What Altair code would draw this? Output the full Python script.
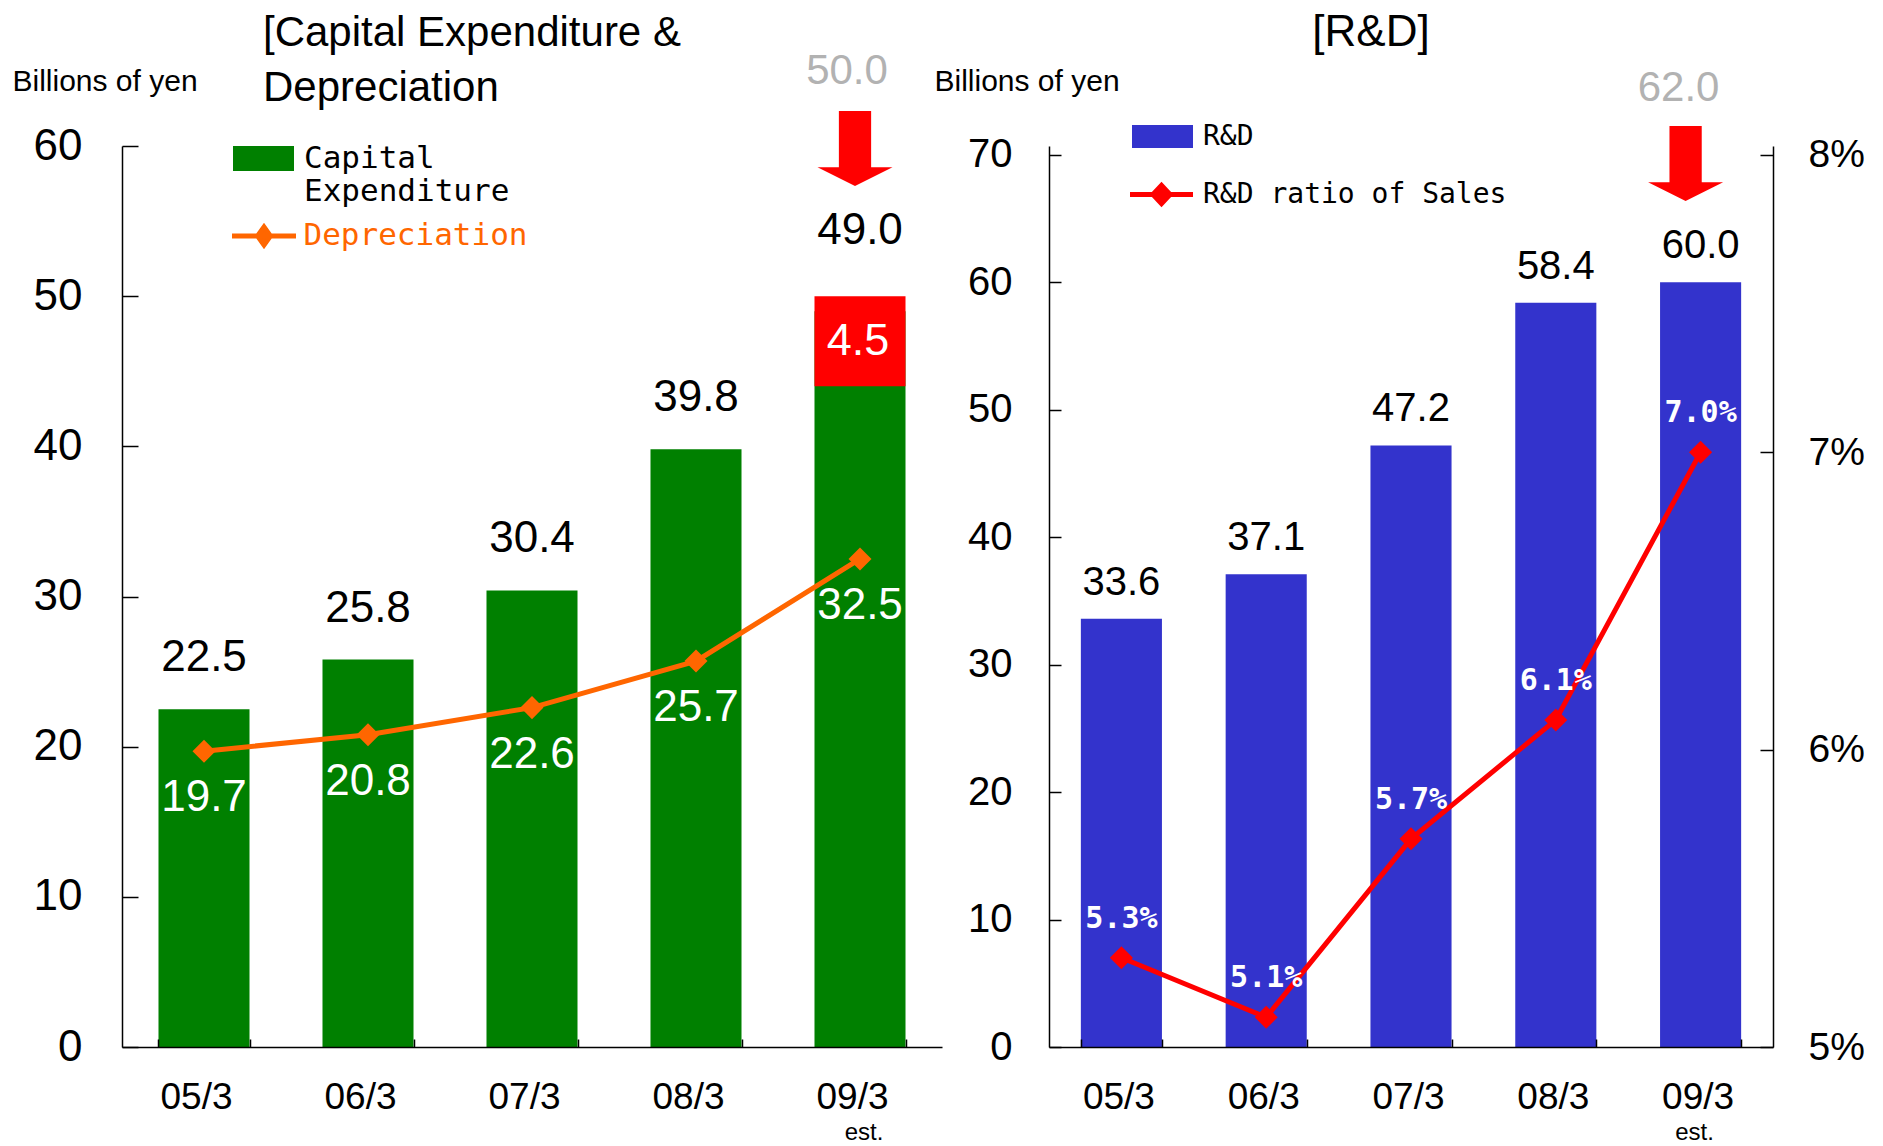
import altair as alt
import pandas as pd

# ---------------- data ----------------
periods = ["05/3", "06/3", "07/3", "08/3", "09/3"]
capex = [22.5, 25.8, 30.4, 39.8, 49.0]
depreciation = [19.7, 20.8, 22.6, 25.7, 32.5]
capex_plan = 50.0
capex_cut_low = 44.0
capex_cut_label = "4.5"
rd = [33.6, 37.1, 47.2, 58.4, 60.0]
rd_ratio = [5.3, 5.1, 5.7, 6.1, 7.0]
rd_plan = 62.0

capex_name = "Capital Expenditure"
dep_name = "Depreciation"
rd_name = "R&D"
ratio_name = "R&D ratio of Sales"
est_text = "est."

# ---------------- styles ----------------
FONT = "Liberation Sans"
MONO = "DejaVu Sans Mono"
GREEN, ORANGE, RED, BLUE, GRAY = "#008000", "#FF6600", "#FF0000", "#3333CC", "#B2B2B2"
LW, RW, H = 820, 724, 901
ARROW = "M -0.43 -1 L 0.43 -1 L 0.43 0.5 L 1 0.5 L 0 1 L -1 0.5 L -0.43 0.5 Z"
XTICK = 8

last = periods[-1]
left_df = pd.DataFrame({
    "period": periods, "capex": capex, "dep": depreciation,
    "series": capex_name, "dseries": dep_name,
})
cut_df = pd.DataFrame({"period": [last], "lo": [capex_cut_low], "hi": [capex_plan], "label": [capex_cut_label]})
plan_l_df = pd.DataFrame({"period": [last], "plan": [capex_plan], "capex": [capex[-1]]})
right_df = pd.DataFrame({
    "period": periods, "rd": rd, "ratio": rd_ratio,
    "series": rd_name, "rseries": ratio_name,
})
plan_r_df = pd.DataFrame({"period": [last], "plan": [rd_plan]})
last_df = pd.DataFrame({"period": [last]})
one_df = pd.DataFrame({"k": [0]})


def axis_common(**kw):
    base = dict(domainColor="black", domainWidth=1.5, ticks=False, grid=True,
                gridColor="black", gridWidth=1.5, gridOpacity=1, labelFont=FONT,
                labelColor="black", zindex=1)
    base.update(kw)
    return alt.Axis(**base)


# ================= LEFT CHART =================
xl = alt.Scale(domain=periods, paddingInner=0.445, paddingOuter=0.2225)
yl = alt.Scale(domain=[0, 60], nice=False)

x_axis_l = axis_common(title=None, labelAngle=0, labelFontSize=37, labelPadding=32,
                       labelOffset=-8, gridDash=[XTICK, 3000], gridDashOffset=-(H - XTICK),
                       tickBand="extent")
y_axis_l = axis_common(title="Billions of yen", titleAngle=0, titleX=-110, titleY=-56,
                       titleAlign="left", titleBaseline="alphabetic", titleFont=FONT,
                       titleFontSize=30, titleFontWeight="normal", titleColor="black",
                       values=[0, 10, 20, 30, 40, 50, 60], labelFontSize=44,
                       labelPadding=40, gridDash=[16, 3000])


def XL():
    return alt.X("period:N", scale=xl, axis=x_axis_l, sort=periods)


def YL(field):
    return alt.Y(field, scale=yl, axis=y_axis_l)


def YLd(v):
    return alt.YDatum(v, scale=yl, axis=y_axis_l)


bars_l = alt.Chart(left_df).mark_bar().encode(
    x=XL(),
    y=YL("capex:Q"),
    color=alt.Color("series:N", scale=alt.Scale(domain=[capex_name], range=[GREEN]),
                    legend=alt.Legend(orient="none", legendX=111, legendY=-18, title=None,
                                      symbolType="M -1 -0.41 L 1 -0.41 L 1 0.41 L -1 0.41 Z",
                                      symbolSize=3721, symbolStrokeWidth=0,
                                      labelFont=MONO, labelFontSize=31, labelColor="black",
                                      labelOffset=10, labelLimit=0, labelBaseline="middle",
                                      labelExpr="datum.label == 'Capital Expenditure' ? ['Capital', 'Expenditure'] : datum.label")),
)
cut_l = alt.Chart(cut_df).mark_bar(color=RED).encode(x=XL(), y=YL("lo:Q"), y2="hi:Q")
line_l = alt.Chart(left_df).mark_line(strokeWidth=5).encode(
    x=XL(), y=YL("dep:Q"),
    stroke=alt.Stroke("dseries:N", scale=alt.Scale(domain=[dep_name], range=[ORANGE]),
                      legend=alt.Legend(orient="none", legendX=107.5, legendY=55.5, title=None,
                                        symbolType="M -1 0 L 1 0 M -0.2 0 L 0 -0.28 L 0.2 0 L 0 0.28 Z",
                                        symbolSize=4096, symbolStrokeWidth=5,
                                        symbolFillColor=ORANGE,
                                        labelFont=MONO, labelFontSize=31, labelColor=ORANGE,
                                        labelOffset=5, labelLimit=0, labelBaseline="middle")),
)
pts_l = alt.Chart(left_df).mark_point(shape="diamond", size=530, filled=True, opacity=1,
                                      color=ORANGE).encode(x=XL(), y=YL("dep:Q"))
lab_l = alt.Chart(left_df).transform_filter(alt.datum.period != last).mark_text(
    font=FONT, fontSize=44, color="black", baseline="middle", dy=-51).encode(
    x=XL(), y=YL("capex:Q"), text=alt.Text("capex:Q", format=".1f"))
lab_last_l = alt.Chart(plan_l_df).mark_text(
    font=FONT, fontSize=44, color="black", baseline="middle", dy=-65).encode(
    x=XL(), y=YL("plan:Q"), text=alt.Text("capex:Q", format=".1f"))
dlab_l = alt.Chart(left_df).mark_text(font=FONT, fontSize=44, color="white", baseline="middle",
                                      dy=47).encode(
    x=XL(), y=YL("dep:Q"), text=alt.Text("dep:Q", format=".1f"))
cutlab_l = alt.Chart(cut_df).transform_calculate(mid="(datum.lo + datum.hi) / 2").mark_text(
    font=FONT, fontSize=45, color="white", baseline="middle", dx=-2).encode(
    x=XL(), y=YL("mid:Q"), text="label:N")
plan_l = alt.Chart(plan_l_df).mark_text(font=FONT, fontSize=42, color=GRAY, baseline="middle",
                                        dx=-13).encode(
    x=XL(), y=YLd(65.0), text=alt.Text("plan:Q", format=".1f"))
arrow_l = alt.Chart(last_df).mark_point(shape=ARROW, size=5625, filled=True, opacity=1,
                                        color=RED, strokeWidth=0, xOffset=-5).encode(
    x=XL(), y=YLd(59.83))
est_l = alt.Chart(last_df).mark_text(text=est_text, font=FONT, fontSize=24, color="black",
                                     baseline="alphabetic", dx=4).encode(
    x=XL(), y=YLd(-6.2))
title_l = alt.Chart(one_df).mark_text(text=["[Capital Expenditure &", "Depreciation"], font=FONT,
                                      fontSize=42, color="black", align="left",
                                      baseline="alphabetic", lineHeight=55).encode(
    x=alt.value(141), y=alt.value(-100))

left = alt.layer(bars_l, cut_l, line_l, pts_l, lab_l, lab_last_l, dlab_l, cutlab_l, plan_l,
                 arrow_l, est_l, title_l).properties(width=LW, height=H)

# ================= RIGHT CHART =================
xr = alt.Scale(domain=periods, paddingInner=0.44, paddingOuter=0.22)
yr = alt.Scale(domain=[0, 70.7], nice=False)
yr2 = alt.Scale(domain=[5, 8.03], nice=False, zero=False)

x_axis_r = axis_common(title=None, labelAngle=0, labelFontSize=37, labelPadding=32,
                       labelOffset=-3, gridDash=[XTICK, 3000], gridDashOffset=-(H - XTICK),
                       tickBand="extent")
y_axis_r = axis_common(title="Billions of yen", titleAngle=0, titleX=-115, titleY=-56,
                       titleAlign="left", titleBaseline="alphabetic", titleFont=FONT,
                       titleFontSize=30, titleFontWeight="normal", titleColor="black",
                       values=[0, 10, 20, 30, 40, 50, 60, 70], labelFontSize=40,
                       labelPadding=37, gridDash=[12, 3000])
y_axis_r2 = axis_common(title=None, orient="right", values=[5, 6, 7, 8], labelFontSize=39,
                        labelPadding=35, labelExpr="datum.value + '%'", gridDash=[13, 3000])


def XR():
    return alt.X("period:N", scale=xr, axis=x_axis_r, sort=periods)


def YR(field):
    return alt.Y(field, scale=yr, axis=y_axis_r)


def YRd(v):
    return alt.YDatum(v, scale=yr, axis=y_axis_r)


def YR2(field):
    return alt.Y(field, scale=yr2, axis=y_axis_r2)


bars_r = alt.Chart(right_df).mark_bar().encode(
    x=XR(),
    y=YR("rd:Q"),
    color=alt.Color("series:N", scale=alt.Scale(domain=[rd_name], range=[BLUE]),
                    legend=alt.Legend(orient="none", legendX=83, legendY=-40, title=None,
                                      symbolType="M -1 -0.377 L 1 -0.377 L 1 0.377 L -1 0.377 Z",
                                      symbolSize=3721, symbolStrokeWidth=0,
                                      labelFont=MONO, labelFontSize=28, labelColor="black",
                                      labelOffset=10, labelLimit=0, labelBaseline="middle")),
)
lab_r = alt.Chart(right_df).mark_text(font=FONT, fontSize=40, color="black", baseline="middle",
                                      dy=-36).encode(
    x=XR(), y=YR("rd:Q"), text=alt.Text("rd:Q", format=".1f"))
plan_r = alt.Chart(plan_r_df).mark_text(font=FONT, fontSize=42, color=GRAY, baseline="middle",
                                        dx=-22).encode(
    x=XR(), y=YRd(75.25), text=alt.Text("plan:Q", format=".1f"))
arrow_r = alt.Chart(last_df).mark_point(shape=ARROW, size=5625, filled=True, opacity=1,
                                        color=RED, strokeWidth=0, xOffset=-15).encode(
    x=XR(), y=YRd(69.33))
est_r = alt.Chart(last_df).mark_text(text=est_text, font=FONT, fontSize=24, color="black",
                                     baseline="alphabetic", dx=-6).encode(
    x=XR(), y=YRd(-7.3))
title_r = alt.Chart(one_df).mark_text(text="[R&D]", font=FONT, fontSize=44, color="black",
                                      align="center", baseline="alphabetic").encode(
    x=alt.value(322), y=alt.value(-100))

bar_group = alt.layer(bars_r, lab_r, plan_r, arrow_r, est_r, title_r)

line_r = alt.Chart(right_df).mark_line(strokeWidth=5).encode(
    x=XR(), y=YR2("ratio:Q"),
    stroke=alt.Stroke("rseries:N", scale=alt.Scale(domain=[ratio_name], range=[RED]),
                      legend=alt.Legend(orient="none", legendX=78.5, legendY=14.5, title=None,
                                        symbolType="M -1 0 L 1 0 M -0.27 0 L 0 -0.29 L 0.27 0 L 0 0.29 Z",
                                        symbolSize=3969, symbolStrokeWidth=5,
                                        symbolFillColor=RED,
                                        labelFont=MONO, labelFontSize=28, labelColor="black",
                                        labelOffset=7.5, labelLimit=0, labelBaseline="middle")),
)
pts_r = alt.Chart(right_df).mark_point(shape="diamond", size=530, filled=True, opacity=1,
                                       color=RED).encode(x=XR(), y=YR2("ratio:Q"))
plab_r = alt.Chart(right_df).transform_calculate(
    txt="format(datum.ratio, '.1f') + '%'").mark_text(
    font=MONO, fontWeight="bold", fontSize=30, color="white", baseline="middle", dy=-39).encode(
    x=XR(), y=YR2("ratio:Q"), text="txt:N")

ratio_group = alt.layer(line_r, pts_r, plab_r)

right = alt.layer(bar_group, ratio_group).resolve_scale(y="independent").properties(
    width=RW, height=H)

chart = alt.hconcat(left, right, spacing=107, bounds="flush").resolve_scale(
    color="independent", stroke="independent"
).resolve_legend(
    color="independent", stroke="independent"
).properties(
    padding={"left": 4, "top": 3, "right": 5, "bottom": 0},
    background="white",
).configure_view(stroke=None)

chart.save("out.html", embed_options={"renderer": "svg", "actions": False})
